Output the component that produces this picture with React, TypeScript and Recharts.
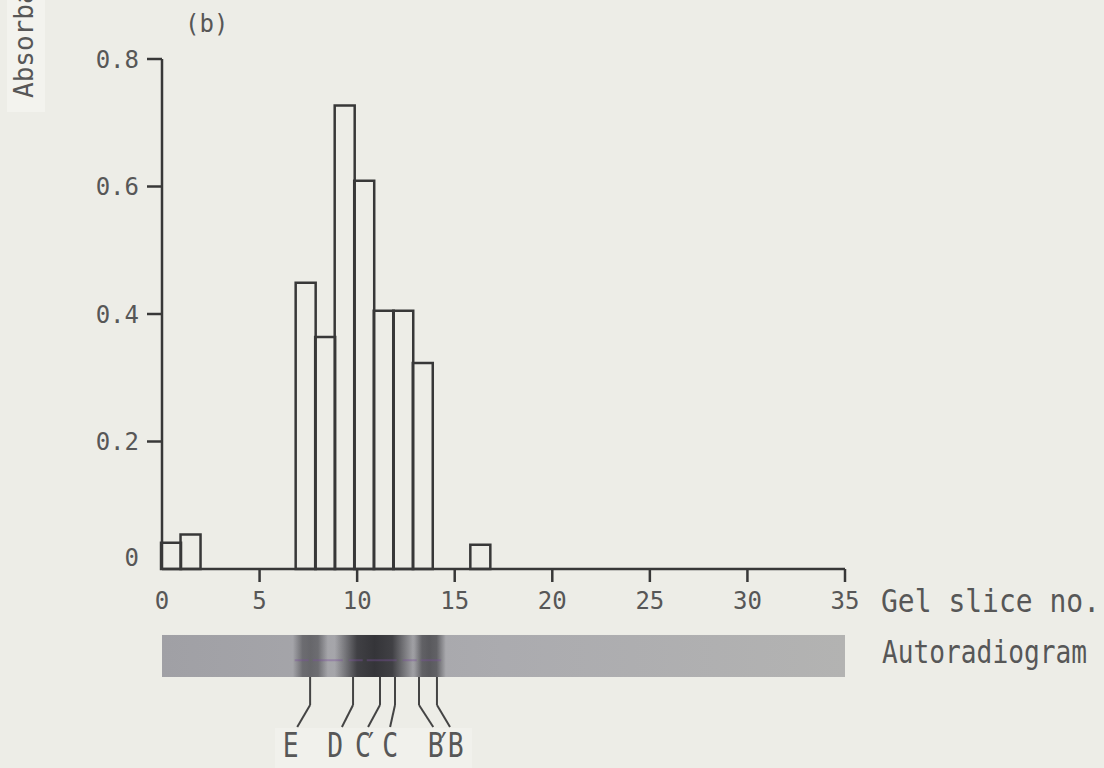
import React from 'react';
import { BarChart, Bar, XAxis, YAxis, ReferenceArea, ReferenceLine, ReferenceDot } from 'recharts';

// Histogram: gel slice position (centre of slice, as read) and absorbance
const sliceNo = [0.45, 1.45, 7.35, 8.35, 9.35, 10.35, 11.35, 12.35, 13.35, 16.3];
const absorbance = [0.041, 0.054, 0.449, 0.364, 0.727, 0.609, 0.405, 0.405, 0.323, 0.038];
const xTicks = [0, 5, 10, 15, 20, 25, 30, 35];
const yTicks = [0, 0.2, 0.4, 0.6, 0.8];

// Autoradiogram strip (in chart units) and its dark spots
const stripSpan = [0, 35];
const stripLevels = [-0.1035, -0.1694];
const spotFrom = [6.7, 8.85, 12.85];
const spotTo = [8.5, 12.95, 14.55];
const spotDarkness = [0.5, 0.9, 0.62];
const streakSpan = [6.8, 14.3];
const streakLevel = -0.143;

// Band markers under the autoradiogram
const bandNames = ['E', 'D', 'C′', 'C', 'B′', 'B'];
const bandTop = [7.59, 9.79, 11.17, 11.94, 13.17, 14.09];
const bandFoot = [6.93, 9.22, 10.56, 11.69, 13.9, 14.76];
const bandLabelAt = [6.6, 8.87, 10.3, 11.69, 14.03, 15.05];
const leaderLevels = [-0.1694, -0.2133, -0.2478];
const labelLevel = -0.295;

const data = sliceNo.map((s, i) => ({ slice: s, absorbance: absorbance[i] }));

const BG = '#ededE7';
const INK = '#383838';
const TXT = '#575757';
const MONO = "'DejaVu Sans Mono', monospace";

const XTick = (props: any) => {
  const { x, y, payload } = props;
  return (
    <g>
      {payload.value !== 0 && (
        <line x1={x} x2={x} y1={y - 23} y2={y - 10} stroke={INK} strokeWidth={2.5} />
      )}
      <text x={x} y={y + 17} textAnchor="middle" fill={TXT} fontSize={24} fontFamily={MONO}>
        {payload.value}
      </text>
    </g>
  );
};

const YTick = (props: any) => {
  const { x, y, payload } = props;
  const v = payload.value;
  return (
    <g>
      {v !== 0 && <line x1={x + 8} x2={x + 23} y1={y} y2={y} stroke={INK} strokeWidth={2.5} />}
      <text
        x={x}
        y={v === 0 ? y - 12 : y}
        dy="0.36em"
        textAnchor="end"
        fill={TXT}
        fontSize={24}
        fontFamily={MONO}
      >
        {v === 0 ? '0' : v.toFixed(1)}
      </text>
    </g>
  );
};

const StripShape = (p: any) => (
  <g>
    <defs>
      <linearGradient id="stripFill" x1="0" x2="1" y1="0" y2="0">
        <stop offset="0" stopColor="#a0a0a5" />
        <stop offset="0.5" stopColor="#ababaf" />
        <stop offset="1" stopColor="#b3b3b2" />
      </linearGradient>
    </defs>
    <rect x={p.x} y={p.y} width={p.width} height={p.height} fill="url(#stripFill)" />
  </g>
);

const makeSpot = (i: number) => (p: any) => (
  <g>
    <defs>
      <linearGradient id={`spot${i}`} x1="0" x2="1" y1="0" y2="0">
        <stop offset="0" stopColor="#28282c" stopOpacity={0} />
        <stop offset="0.28" stopColor="#28282c" stopOpacity={spotDarkness[i] * 0.9} />
        <stop offset="0.5" stopColor="#28282c" stopOpacity={spotDarkness[i]} />
        <stop offset="0.72" stopColor="#28282c" stopOpacity={spotDarkness[i] * 0.9} />
        <stop offset="1" stopColor="#28282c" stopOpacity={0} />
      </linearGradient>
    </defs>
    <rect x={p.x} y={p.y} width={p.width} height={p.height} fill={`url(#spot${i})`} />
  </g>
);

const makeBandLabel = (name: string) => (p: any) => (
  <g transform={`translate(${p.cx},${p.cy}) scale(0.8,1)`}>
    <text x={0} y={0} textAnchor="middle" fill={TXT} fontSize={33} fontFamily={MONO}>
      {name[0]}
    </text>
    {name.length > 1 && (
      <text x={10} y={0} textAnchor="middle" fill={TXT} fontSize={33} fontFamily={MONO}>
        {name.slice(1)}
      </text>
    )}
  </g>
);

export default function App() {
  return (
    <div style={{ position: 'absolute', left: 0, top: 0, width: 1104, height: 768, background: BG, overflow: 'hidden' }}>
      <BarChart
        width={1104}
        height={768}
        data={data}
        margin={{ top: 59, right: 259, left: 102, bottom: 159 }}
        barCategoryGap={0}
        barGap={0}
      >
        <rect x={7} y={-2} width={38} height={114} fill="#f3f3ee" />
        <rect x={275} y={728} width={197} height={45} fill="#f1f1ec" />
        <text
          x={33}
          y={98}
          transform="rotate(-90 33 98)"
          fill={TXT}
          fontSize={26}
          fontFamily={MONO}
        >
          Absorbance
        </text>
        <text x={185} y={32} fill={TXT} fontSize={24} fontFamily={MONO}>
          (b)
        </text>
        <text x={881} y={612} fill={TXT} fontSize={32} fontFamily={MONO} textLength={219} lengthAdjust="spacingAndGlyphs">
          Gel slice no.
        </text>
        <text x={882} y={663} fill={TXT} fontSize={32} fontFamily={MONO} textLength={205} lengthAdjust="spacingAndGlyphs">
          Autoradiogram
        </text>
        <XAxis
          dataKey="slice"
          type="number"
          domain={[0, 35]}
          ticks={xTicks}
          height={40}
          tickSize={13}
          tickMargin={10}
          tickLine={false}
          tick={<XTick />}
          axisLine={{ stroke: INK, strokeWidth: 2.5 }}
          interval={0}
        />
        <YAxis
          type="number"
          domain={[0, 0.8]}
          ticks={yTicks}
          width={60}
          tickSize={15}
          tickMargin={8}
          tickLine={false}
          tick={<YTick />}
          axisLine={{ stroke: INK, strokeWidth: 2.5 }}
          interval={0}
        />
        <ReferenceArea
          x1={stripSpan[0]}
          x2={stripSpan[1]}
          y1={stripLevels[1]}
          y2={stripLevels[0]}
          ifOverflow="visible"
          shape={StripShape}
        />
        {spotFrom.map((f, i) => (
          <ReferenceArea
            key={`spot-${i}`}
            x1={f}
            x2={spotTo[i]}
            y1={stripLevels[1]}
            y2={stripLevels[0]}
            ifOverflow="visible"
            shape={makeSpot(i)}
          />
        ))}
        <ReferenceLine
          segment={[
            { x: streakSpan[0], y: streakLevel },
            { x: streakSpan[1], y: streakLevel },
          ]}
          ifOverflow="visible"
          stroke="#7a4f9a"
          strokeOpacity={0.4}
          strokeWidth={2}
          strokeDasharray="14 4 30 6"
        />
        {bandNames.map((n, i) => (
          <ReferenceLine
            key={`lv-${i}`}
            segment={[
              { x: bandTop[i], y: leaderLevels[0] },
              { x: bandTop[i], y: leaderLevels[1] },
            ]}
            ifOverflow="visible"
            stroke="#444"
            strokeWidth={2}
          />
        ))}
        {bandNames.map((n, i) => (
          <ReferenceLine
            key={`ld-${i}`}
            segment={[
              { x: bandTop[i], y: leaderLevels[1] },
              { x: bandFoot[i], y: leaderLevels[2] },
            ]}
            ifOverflow="visible"
            stroke="#444"
            strokeWidth={2}
          />
        ))}
        {bandNames.map((n, i) => (
          <ReferenceDot
            key={`lb-${i}`}
            x={bandLabelAt[i]}
            y={labelLevel}
            r={0}
            ifOverflow="visible"
            shape={makeBandLabel(n)}
          />
        ))}
        <Bar
          dataKey="absorbance"
          fill="none"
          stroke={INK}
          strokeWidth={2.5}
          isAnimationActive={false}
        />
      </BarChart>
    </div>
  );
}
